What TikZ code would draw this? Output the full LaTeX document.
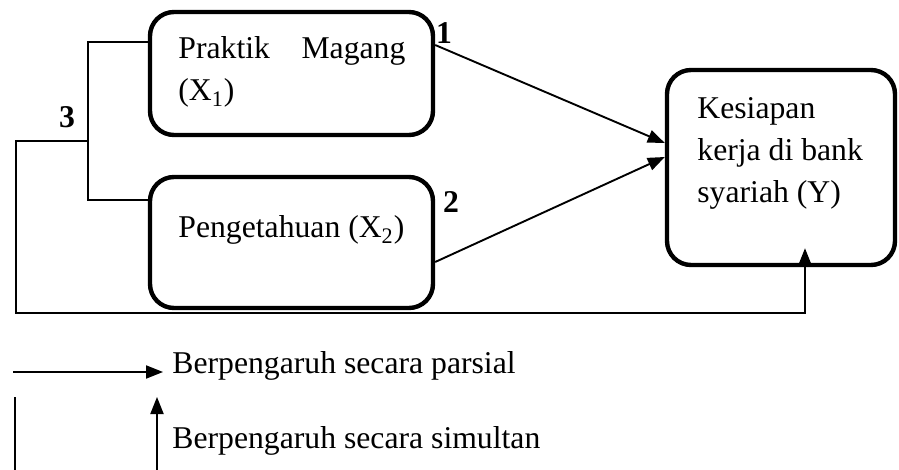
\documentclass[tikz,border=0pt]{standalone}
\usepackage{fontspec}
\setmainfont{Liberation Serif}
\usetikzlibrary{arrows.meta, positioning, calc}
\tikzset{
    varbox/.style={
        rectangle,
        rounded corners=12pt,
        line width=2.2pt,
        draw=black,
        inner sep=0pt,
    },
    lbl/.style={
        inner sep=0pt,
        font=\fontsize{15.85}{21}\selectfont,
    },
    num/.style={
        inner sep=0pt,
        font=\fontsize{15.85}{21}\selectfont\bfseries,
    },
    conn/.style={
        line width=0.95pt,
    },
}

\begin{document}
\begin{tikzpicture}[x=0.5pt,y=-0.5pt,>={Triangle[length=8.5pt,width=6.5pt]}]
      \useasboundingbox (0,0) rectangle (899,470);

      \node [varbox, minimum width=141.5pt, minimum height=61.5pt] (X1) at (291.5,73.5) {};
      \node [varbox, minimum width=141.5pt, minimum height=65.5pt] (X2) at (291.5,242.5) {};
      \node [varbox, minimum width=114pt, minimum height=97.5pt] (Y) at (781,167.5) {};

      % text width node: base on first line, align=left only: base on last line
      \node [lbl, text width=113.5pt, align=justify, anchor=base west] (X1-txt) at (178,59) {Praktik Magang\linebreak (X\textsubscript{1})};
      \node [lbl, anchor=base west] (X2-txt) at (178,238) {Pengetahuan (X\textsubscript{2})};
      \node [lbl, align=left, anchor=base west] (Y-txt) at (697,203) {Kesiapan\\kerja di bank\\syariah (Y)};

      \node [num] (n1) at (444,33) {1};
      \node [num] (n2) at (451,202) {2};
      \node [num] (n3) at (67,117) {3};

      % partial effects
      \draw[->, conn] ([yshift=14.25pt]X1.east) -- ([yshift=12.25pt]Y.west);
      \draw[->, conn] ([yshift=-9.75pt]X2.east) -- ([yshift=5.25pt]Y.west);

      % simultaneous effect
      \coordinate (join) at (88,141);
      \coordinate (low-left) at (16,313);
      \draw[conn] ([yshift=15.75pt]X1.west) -| (join) |- ([yshift=21.25pt]X2.west);
      \draw[->, conn] (join) -| (low-left) -| ([xshift=12pt,yshift=9.5pt]Y.south);

      % legend
      \node [lbl, anchor=base west] (parsial) at (172,373) {Berpengaruh secara parsial};
      \node [lbl, anchor=base west] (simultan) at (172,448) {Berpengaruh secara simultan};
      \coordinate (par-start) at (13,372);
      \draw[->, conn] (par-start) -- ([xshift=-4.5pt,yshift=0.5pt]parsial.base west);
      \coordinate (sim-line-top) at (15,397);
      \coordinate (sim-line-bot) at (15,470);
      \draw[conn] (sim-line-bot) -- (sim-line-top);
      \coordinate (sim-arr-top) at (157,397);
      \coordinate (sim-arr-bot) at (157,470);
      \draw[->, conn] (sim-arr-bot) -- (sim-arr-top);

\end{tikzpicture}
\end{document}
